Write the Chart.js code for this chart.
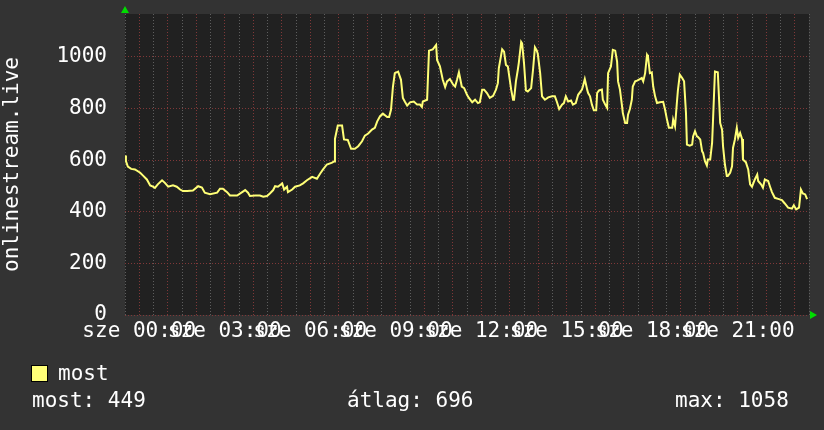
<!DOCTYPE html>
<html>
<head>
<meta charset="utf-8">
<title>onlinestream.live</title>
<script src="https://cdn.jsdelivr.net/npm/chart.js@4.4.1/dist/chart.umd.min.js"></script>
<style>
    html, body { margin: 0; padding: 0; background: #333333; }
    #wrap {
        position: relative; width: 824px; height: 430px; overflow: hidden;
        font-family: 'DejaVu Sans Mono', monospace; font-size: 21px; color: #ffffff;
    }
    #wrap canvas { position: absolute; left: 0; top: 0; }
    .txt { position: absolute; line-height: 21px; white-space: pre; }
    .swatch {
        position: absolute; left: 31px; top: 365px; width: 15px; height: 15px;
        border: 1px solid #000000; background: #ffff77;
    }
</style>
</head>
<body>
<div id="wrap">
    <canvas id="chart" width="824" height="430"></canvas>
    <div class="swatch"></div>
    <div class="txt" id="legendLabel" style="left:58px; top:363px;"></div>
    <div class="txt" id="statNow" style="left:32px; top:390px;"></div>
    <div class="txt" id="statAvg" style="left:347px; top:390px;"></div>
    <div class="txt" id="statMax" style="left:675px; top:390px;"></div>
</div>
<script>
// Time of each sample, minutes from midnight (the graph starts 23:30 the day before)
const minutes = [
    -30, -28, -24, -17, -9, 2, 8, 16, 23, 29, 33, 39, 48, 54, 61, 71, 79, 86, 92, 101,
    113, 124, 132, 138, 149, 164, 170, 176, 185, 191, 206,
    223, 229, 233, 244, 254, 261, 269, 275, 282, 286, 292, 301, 305, 311, 313, 322, 328,
    338, 345, 353, 364, 374, 381, 387, 395, 406, 410, 412, 418, 427, 431, 439, 446, 452,
    454, 461, 469, 475, 482, 490, 496, 501, 507, 513, 522, 526, 530, 534, 538, 545, 551,
    555, 559, 564, 570, 578, 585, 591, 595, 597, 606, 610, 618, 625, 627, 633, 639, 644,
    648, 654, 661, 665, 669, 673, 679, 684, 690,
    694, 701, 707, 713, 717, 722, 726, 732, 738, 745, 751, 755, 757, 764, 768, 772, 776,
    778, 783, 787, 789, 793, 797, 799, 804, 806, 810, 814, 818, 825, 829, 833, 837, 839,
    844, 848, 854, 861, 869, 875, 879, 884, 890, 894, 898, 903, 909, 913, 919, 924, 932,
    934, 938,
    943, 945, 949, 953, 957, 962, 964, 968, 974, 976, 981, 985, 987, 993, 995, 997, 1002,
    1006, 1008, 1012, 1016, 1018, 1023, 1027, 1029, 1033, 1037, 1039, 1044, 1048, 1054,
    1058, 1061, 1065, 1069, 1071, 1075, 1079, 1082, 1086, 1090, 1096, 1103, 1107, 1111,
    1115, 1122, 1124, 1128, 1132, 1134, 1138, 1143, 1147, 1151, 1153, 1159, 1164, 1166,
    1170, 1174, 1176,
    1181, 1185, 1187, 1191, 1195, 1197, 1202, 1206, 1208, 1212, 1218, 1223, 1227, 1229,
    1233, 1237, 1239, 1244, 1248, 1250, 1254, 1258, 1261, 1265, 1269, 1271, 1277, 1282,
    1286, 1290, 1296, 1301, 1303, 1309, 1313, 1317, 1324, 1328, 1332, 1338, 1345, 1353,
    1359, 1366, 1374, 1378, 1383, 1389, 1393, 1397, 1402, 1406
];

// Listeners ("most") at each sample
const listeners = [
    618, 596, 575, 566, 564, 551, 540, 525, 502, 497, 492, 506, 522, 512, 497, 502, 497, 486, 480, 480,
    482, 499, 494, 474, 468, 474, 489, 489, 476, 463, 463,
    484, 474, 461, 463, 463, 458, 461, 471, 484, 499, 497, 510, 486, 497, 476, 486, 497,
    502, 510, 522, 535, 528, 548, 564, 583, 590, 595, 682, 734, 734, 680, 678, 644, 644,
    644, 654, 673, 695, 703, 718, 725, 750, 770, 780, 767, 767, 795, 883, 937, 943, 911,
    841, 827, 811, 824, 827, 815, 815, 806, 827, 834, 1024, 1029, 1046, 988, 963, 911, 883,
    905, 914, 892, 885, 911, 940, 885, 879, 853,
    841, 824, 834, 821, 824, 873, 873, 860, 841, 849, 873, 898, 956, 1029, 1020, 969, 963,
    937, 873, 834, 834, 905, 950, 976, 1058, 1052, 976, 870, 866, 879, 950, 1037, 1024, 1012,
    937, 847, 834, 843, 847, 847, 827, 798, 815, 821, 847, 827, 831, 815, 821, 853, 873,
    885, 914,
    873, 860, 847, 815, 793, 793, 860, 870, 873, 834, 815, 802, 937, 963, 995, 1027, 1024,
    982, 905, 873, 815, 783, 744, 744, 776, 798, 834, 885, 905, 908, 914,
    918, 905, 937, 1008, 1001, 937, 940, 885, 847, 821, 824, 826, 795, 757,
    725, 725, 757, 731, 826, 870, 931, 918, 905, 783, 660, 656, 660, 692, 712,
    692, 690,
    680, 634, 628, 596, 579, 602, 602, 667, 757, 943, 940, 744, 718, 654,
    583, 538, 538, 551, 576, 647, 680, 725, 686, 705, 682, 602, 592, 564,
    506, 497, 525, 544, 519, 506, 493, 525, 519, 497, 476, 454, 450, 445,
    432, 416, 412, 425, 409, 416, 486, 471, 467, 449
];

// Axis labels
const xLabelMinutes = [0, 180, 360, 540, 720, 900, 1080, 1260];
const xLabels = ['sze 00:00', 'sze 03:00', 'sze 06:00', 'sze 09:00',
                 'sze 12:00', 'sze 15:00', 'sze 18:00', 'sze 21:00'];
const yLabelValues = [0, 200, 400, 600, 800, 1000];

const seriesName = 'most';
const statNow = 449;
const statAvg = 696;
const statMax = 1058;

const FONT = "'DejaVu Sans Mono', monospace";
const GRID_MAJOR = '#803838';
const GRID_MINOR = '#5e5e5e';
const ARROW = '#00dd00';

// Plot background and the little green axis arrows, rrdtool style
const rrdDecor = {
    id: 'rrdDecor',
    beforeDraw(chart) {
        const { ctx, chartArea: a } = chart;
        ctx.save();
        ctx.fillStyle = '#333333';
        ctx.fillRect(0, 0, chart.width, chart.height);
        ctx.fillStyle = '#212121';
        ctx.fillRect(a.left, a.top, a.right - a.left, a.bottom - a.top);
        ctx.restore();
    },
    afterDraw(chart) {
        const { ctx, chartArea: a } = chart;
        ctx.save();
        ctx.fillStyle = ARROW;
        ctx.beginPath();
        ctx.moveTo(a.left - 4, a.top - 1);
        ctx.lineTo(a.left + 4, a.top - 1);
        ctx.lineTo(a.left, a.top - 8);
        ctx.closePath();
        ctx.fill();
        ctx.beginPath();
        ctx.moveTo(a.right + 1, a.bottom - 4);
        ctx.lineTo(a.right + 1, a.bottom + 4);
        ctx.lineTo(a.right + 8, a.bottom);
        ctx.closePath();
        ctx.fill();
        ctx.restore();
    }
};

// fixed axis sizes so the plot lands where rrdtool put it
function fixX(scale) {
    scale.height = 30;
    scale.paddingLeft = 0;
    scale.paddingRight = 0;
}
function fixY(scale) {
    scale.width = 125;
    scale.paddingTop = 0;
    scale.paddingBottom = 0;
}

const points = minutes.map((m, i) => ({ x: m, y: listeners[i] }));

new Chart(document.getElementById('chart'), {
    type: 'line',
    data: {
        datasets: [{
            label: seriesName,
            data: points,
            borderColor: '#ffff77',
            borderWidth: 2,
            pointRadius: 0,
            tension: 0,
            fill: false
        }]
    },
    options: {
        responsive: false,
        animation: false,
        devicePixelRatio: 1,
        layout: { padding: { left: 0, top: 14, right: 15, bottom: 85 } },
        plugins: {
            legend: { display: false },
            tooltip: { enabled: false }
        },
        scales: {
            x: {
                type: 'linear',
                min: -30,
                max: 1410,
                afterFit: fixX,
                border: { display: false, dash: [1, 2] },
                grid: {
                    drawTicks: false,
                    color: (c) => (c.tick && c.tick.value % 60 === 0) ? GRID_MAJOR : GRID_MINOR
                },
                ticks: {
                    stepSize: 30,
                    autoSkip: false,
                    maxRotation: 0,
                    minRotation: 0,
                    padding: 4,
                    color: '#ffffff',
                    font: { family: FONT, size: 21 },
                    callback: (v) => {
                        const i = xLabelMinutes.indexOf(v);
                        return i >= 0 ? xLabels[i] : '';
                    }
                }
            },
            y: {
                min: 0,
                max: 1166,
                afterFit: fixY,
                border: { display: false, dash: [1, 2] },
                grid: {
                    drawTicks: false,
                    color: (c) => {
                        if (!c.tick) return 'transparent';
                        const v = c.tick.value;
                        if (v % 200 === 0) return GRID_MAJOR;
                        if (v % 100 === 0) return GRID_MINOR;
                        return 'transparent';
                    }
                },
                ticks: {
                    stepSize: 100,
                    padding: 18,
                    color: '#ffffff',
                    font: { family: FONT, size: 21 },
                    callback: (v) => yLabelValues.includes(v) ? String(v) : ''
                },
                title: {
                    display: true,
                    text: 'onlinestream.live',
                    color: '#ffffff',
                    padding: { top: 2, bottom: 0 },
                    font: { family: FONT, size: 21, lineHeight: 1 }
                }
            }
        }
    },
    plugins: [rrdDecor]
});

document.getElementById('legendLabel').textContent = seriesName;
document.getElementById('statNow').textContent = 'most: ' + statNow;
document.getElementById('statAvg').textContent = '\u00e1tlag: ' + statAvg;
document.getElementById('statMax').textContent = 'max: ' + statMax;
</script>
</body>
</html>
